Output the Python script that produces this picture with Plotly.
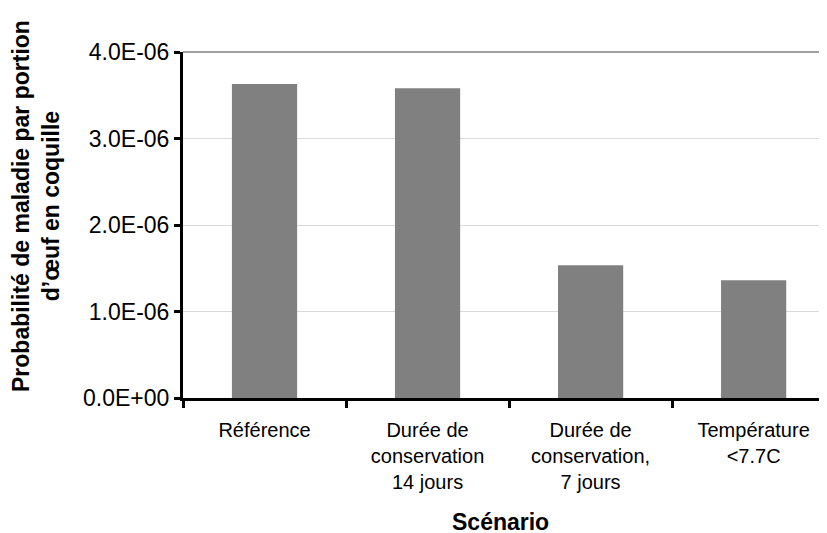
import plotly.graph_objects as go

categories = ["Référence", "Durée de<br>conservation<br>14 jours",
              "Durée de<br>conservation,<br>7 jours", "Température<br>&lt;7.7C"]
values = [3.63e-6, 3.58e-6, 1.535e-6, 1.36e-6]
y_tickvals = [0, 1e-6, 2e-6, 3e-6, 4e-6]
y_ticktext = ["0.0E+00", "1.0E-06", "2.0E-06", "3.0E-06", "4.0E-06"]

FONT = "Liberation Sans, Arial, sans-serif"

# page has an 8px body margin; plot area spans page x 183..827, y 52..398
L, T, PW, PH = 175, 44, 644, 346
W, H = 827, 533

fig = go.Figure()
fig.add_trace(go.Bar(x=categories, y=values, marker=dict(color="#808080", line=dict(width=0)),
                     width=0.4))

fig.update_layout(
    width=W, height=H,
    margin=dict(l=L, r=W - L - PW, t=T, b=H - T - PH),
    paper_bgcolor="white", plot_bgcolor="white",
    font=dict(family=FONT, size=20, color="black"),
    showlegend=False,
    xaxis=dict(range=[-0.5, 3.45], showline=True, linecolor="black", linewidth=3,
               ticks="outside", tickson="boundaries", ticklen=7, tickwidth=3, tickcolor="black",
               showgrid=False, ticklabelstandoff=12, tickfont=dict(size=20)),
    yaxis=dict(range=[0, 4e-6], tickvals=y_tickvals, ticktext=y_ticktext,
               showline=True, linecolor="black", linewidth=3,
               ticks="outside", ticklen=6, tickwidth=3, tickcolor="black",
               showgrid=True, gridcolor="#d9d9d9", gridwidth=1, zeroline=False,
               tickfont=dict(size=23)),
    shapes=[dict(type="line", xref="x domain", yref="y domain", x0=0, x1=1, y0=1, y1=1,
                 line=dict(color="#808080", width=1.5))],
    annotations=[
        dict(text="<b>Probabilité de maladie par portion<br>d’œuf en coquille</b>",
             textangle=-90, xref="paper", yref="paper", x=(28 - L) / PW, y=(T + PH - 198) / PH,
             xanchor="center", yanchor="middle", showarrow=False,
             font=dict(size=23, family=FONT)),
        dict(text="<b>Scénario</b>", xref="paper", yref="paper",
             x=(492 - L) / PW, y=(T + PH - 514) / PH, xanchor="center", yanchor="middle",
             showarrow=False, font=dict(size=23, family=FONT)),
    ],
)

fig.write_html("out.html")
